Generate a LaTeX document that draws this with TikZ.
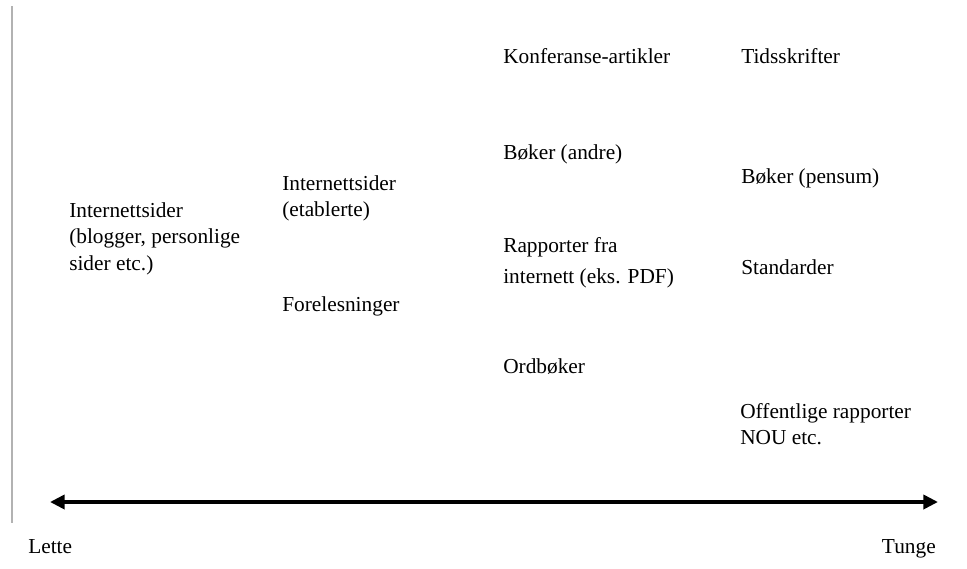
\documentclass[tikz,border=0pt]{standalone}
\usepackage{fontspec}
\setmainfont{Liberation Serif}
\usetikzlibrary{arrows.meta}
\begin{document}
\begin{tikzpicture}[x=0.75pt,y=-0.75pt,
  lbl/.style={inner sep=0pt,align=left,font=\fontsize{16}{20}\selectfont},
  axis/.style={line width=3.5pt,{Triangle[length=11pt,width=10.5pt]}-{Triangle[length=11pt,width=10.5pt]}}]
\useasboundingbox (0,0) rectangle (967,568);
% left margin rule
\draw[gray!60,line width=0.8pt] (12,6) -- (12,523);

% column 1
\node[lbl,anchor=north west] (blogg) at (69,202) {Internettsider\\(blogger, personlige\\sider etc.)};
% column 2
\node[lbl,anchor=north west] (etabl) at (282,175) {Internettsider\\(etablerte)};
\node[lbl,anchor=base west] (forel) at (282,311) {Forelesninger};
% column 3
\node[lbl,anchor=base west] (konf) at (503,63) {Konferanse-artikler};
\node[lbl,anchor=base west] (bokand) at (503,159) {Bøker (andre)};
\node[lbl,anchor=north west] (rapp) at (503,237) {Rapporter fra\\[3.5pt]internett (eks. PDF)};
\node[lbl,anchor=base west] (ordb) at (503,373) {Ordbøker};
% column 4
\node[lbl,anchor=base west] (tids) at (741,63) {Tidsskrifter};
\node[lbl,anchor=base west] (bokpen) at (741,183) {Bøker (pensum)};
\node[lbl,anchor=base west] (stand) at (741,274) {Standarder};
\node[lbl,anchor=north west] (offent) at (740,403) {Offentlige rapporter\\NOU etc.};

% scale from light to heavy
\coordinate (lo) at (50,502);
\coordinate (hi) at (938,502);
\draw[axis] (lo) -- (hi);
\node[lbl,anchor=base west] (lette) at (28,553) {Lette};
\node[lbl,anchor=base east] (tunge) at (936,553) {Tunge};
\end{tikzpicture}
\end{document}
